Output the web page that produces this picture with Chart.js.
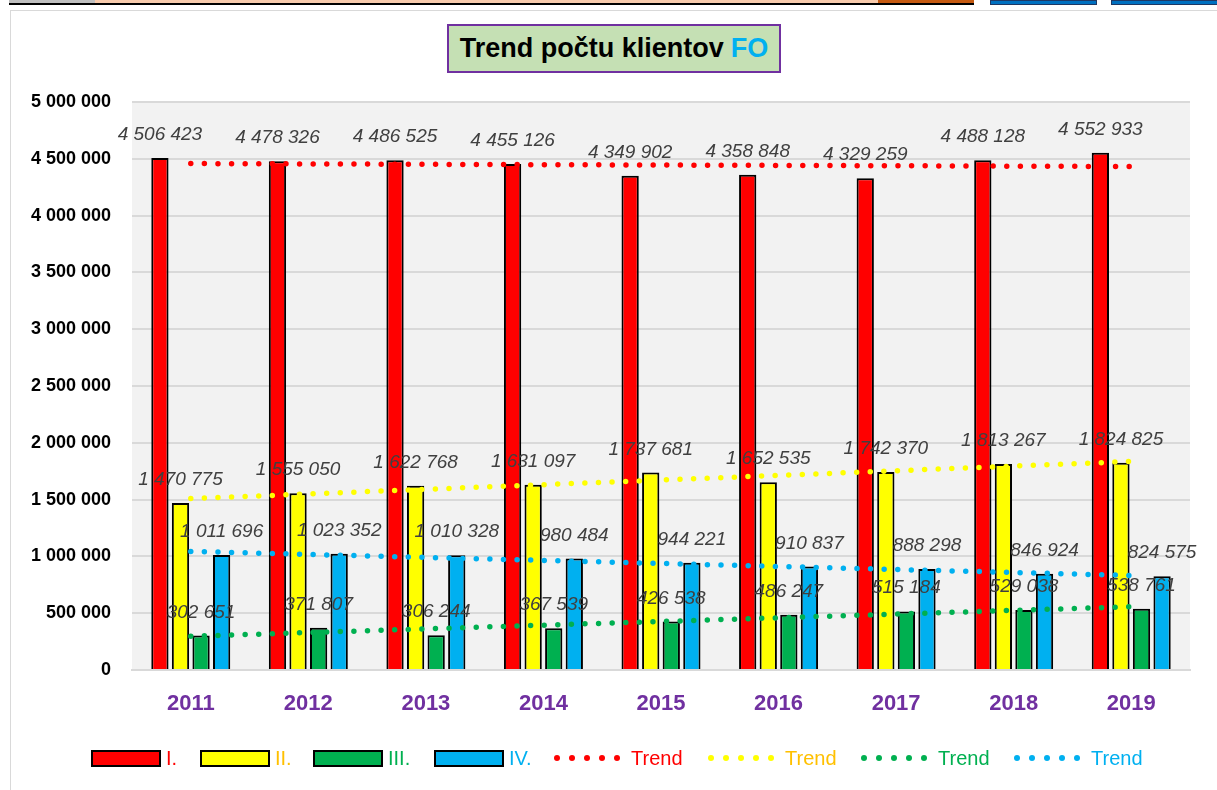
<!DOCTYPE html>
<html lang="sk">
<head>
<meta charset="UTF-8" />
<title>Trend počtu klientov FO</title>
<script src="https://cdn.jsdelivr.net/npm/chart.js@4.4.1/dist/chart.umd.min.js"></script>
<style>
  html, body { margin: 0; padding: 0; background: #fff; }
  body { width: 1217px; height: 790px; position: relative; overflow: hidden; font-family: 'Liberation Sans', Arial, sans-serif; }
  .strip { position: absolute; top: 0; height: 3px; }
  .frame { position: absolute; left: 10px; top: 10px; width: 1220px; height: 800px; border: 1px solid #d9d9d9; box-sizing: border-box; }
  #chart { position: absolute; left: 0; top: 0; }
  .title {
    position: absolute; left: 447px; top: 24px; width: 334px; height: 49px; box-sizing: border-box;
    background: #c5e0b4; border: 2px solid #7030a0;
    font: bold 27px 'Liberation Sans', Arial, sans-serif; color: #000;
    display: flex; align-items: center; justify-content: center; white-space: nowrap;
  }
  .title span { color: #00b0f0; margin-left: 7px; }
</style>
</head>
<body>
  <div class="strip" style="left:9px;width:86px;background:#bfbfbf"></div>
  <div class="strip" style="left:95px;width:783px;background:#f8cbad"></div>
  <div class="strip" style="left:878px;width:96px;background:#c55a11"></div>
  <div class="strip" style="left:9px;width:965px;top:3px;height:2px;background:#000"></div>
  <div class="strip" style="left:990px;width:105px;height:3px;background:#0070c0;border:1px solid #1f3864"></div>
  <div class="strip" style="left:1111px;width:106px;height:3px;background:#0070c0;border:1px solid #1f3864"></div>
  <div class="frame"></div>
  <canvas id="chart" width="1217" height="790"></canvas>
  <div class="title">Trend počtu klientov<span>FO</span></div>
<script>
const years = ['2011', '2012', '2013', '2014', '2015', '2016', '2017', '2018', '2019']
const seriesNames = ['I.', 'II.', 'III.', 'IV.']
const valuesI = [4506423, 4478326, 4486525, 4455126, 4349902, 4358848, 4329259, 4488128, 4552933]
const valuesII = [1470775, 1555050, 1622768, 1631097, 1737681, 1652535, 1742370, 1813267, 1824825]
const valuesIII = [302651, 371807, 306244, 367539, 426538, 486247, 515184, 529038, 538761]
const valuesIV = [1011696, 1023352, 1010328, 980484, 944221, 910837, 888298, 846924, 824575]
// trend line ends (first year, last year)
const trendI = [4458076, 4432028]
const trendII = [1508831, 1835695]
const trendIII = [296932, 557292]
const trendIV = [1043956, 831758]
const yTicks = [0, 500000, 1000000, 1500000, 2000000, 2500000, 3000000, 3500000, 4000000, 4500000, 5000000]

const fill = ['#ff0000', '#ffff00', '#00b050', '#00b0f0']
const textCol = ['#ff0000', '#ffc000', '#00b050', '#00b0f0']
const fmt = (v) => String(v).replace(/\B(?=(\d{3})+(?!\d))/g, ' ')

const barSets = [valuesI, valuesII, valuesIII, valuesIV].map((d, i) => ({
  type: 'bar',
  label: seriesNames[i],
  data: d,
  backgroundColor: fill[i],
  borderColor: '#000',
  borderWidth: 2,
  categoryPercentage: 0.7,
  barPercentage: 0.84,
  order: 2,
}))
const trendSets = [trendI, trendII, trendIII, trendIV].map((t, i) => ({
  type: 'line',
  label: 'Trend',
  data: [{ x: years[0], y: t[0] }, { x: years[years.length - 1], y: t[1] }],
  borderColor: fill[i],
  borderWidth: 5.5,
  borderDash: [0, 13.6],
  borderCapStyle: 'round',
  pointRadius: 0,
  fill: false,
  order: 1,
}))

const labelsPlugin = {
  id: 'barLabels',
  afterDatasetsDraw(chart) {
    const ctx = chart.ctx
    ctx.save()
    ctx.font = 'italic 19px "Liberation Sans", Arial, sans-serif'
    ctx.fillStyle = '#404040'
    ctx.textAlign = 'center'
    ctx.textBaseline = 'alphabetic'
    chart.data.datasets.forEach((ds, di) => {
      if (ds.type !== 'bar') return
      chart.getDatasetMeta(di).data.forEach((el, i) => {
        ctx.fillText(fmt(ds.data[i]), el.x, el.y - 18)
      })
    })
    ctx.restore()
  },
}

const legendPlugin = {
  id: 'customLegend',
  afterDraw(chart) {
    const ctx = chart.ctx
    const y = 758
    ctx.save()
    ctx.font = '20px "Liberation Sans", Arial, sans-serif'
    ctx.textBaseline = 'middle'
    const boxX = [92, 201, 314, 435]
    seriesNames.forEach((name, i) => {
      ctx.fillStyle = fill[i]
      ctx.fillRect(boxX[i], y - 7, 68, 15)
      ctx.strokeStyle = '#000'
      ctx.lineWidth = 2
      ctx.strokeRect(boxX[i], y - 7, 68, 15)
      ctx.fillStyle = textCol[i]
      ctx.fillText(name, boxX[i] + 74, y + 1)
    })
    const dotX = [557, 711, 864, 1017]
    dotX.forEach((x0, i) => {
      ctx.fillStyle = fill[i]
      for (let k = 0; k < 5; k++) {
        ctx.beginPath()
        ctx.arc(x0 + k * 15, y, 3, 0, Math.PI * 2)
        ctx.fill()
      }
      ctx.fillStyle = textCol[i]
      ctx.fillText('Trend', x0 + 74, y + 1)
    })
    ctx.restore()
  },
}

const bgPlugin = {
  id: 'plotBg',
  beforeDraw(chart) {
    const a = chart.chartArea
    chart.ctx.save()
    chart.ctx.fillStyle = '#f2f2f2'
    chart.ctx.fillRect(a.left, a.top, a.right - a.left, a.bottom - a.top)
    chart.ctx.restore()
  },
}

new Chart(document.getElementById('chart'), {
  data: { labels: years, datasets: [...barSets, ...trendSets] },
  options: {
    responsive: false,
    animation: false,
    layout: { padding: { left: 0, top: 102, right: 27, bottom: 70 } },
    plugins: { legend: { display: false }, tooltip: { enabled: false } },
    scales: {
      x: {
        grid: { display: false, drawTicks: false },
        border: { color: '#d9d9d9', width: 2 },
        ticks: { color: '#7030a0', font: { family: '"Liberation Sans", Arial, sans-serif', size: 22, weight: 'bold' }, padding: 21 },
        afterFit(s) { s.height = 50 },
      },
      y: {
        min: 0,
        max: 5000000,
        afterBuildTicks(s) { s.ticks = yTicks.map((v) => ({ value: v })) },
        grid: { color: '#d9d9d9', lineWidth: 2, drawTicks: false },
        border: { display: false },
        ticks: {
          color: '#000',
          font: { family: '"Liberation Sans", Arial, sans-serif', size: 18, weight: 'bold' },
          padding: 21,
          callback: (v) => fmt(v),
        },
        afterFit(s) { s.width = 132 },
      },
    },
  },
  plugins: [bgPlugin, labelsPlugin, legendPlugin],
})
</script>
</body>
</html>
